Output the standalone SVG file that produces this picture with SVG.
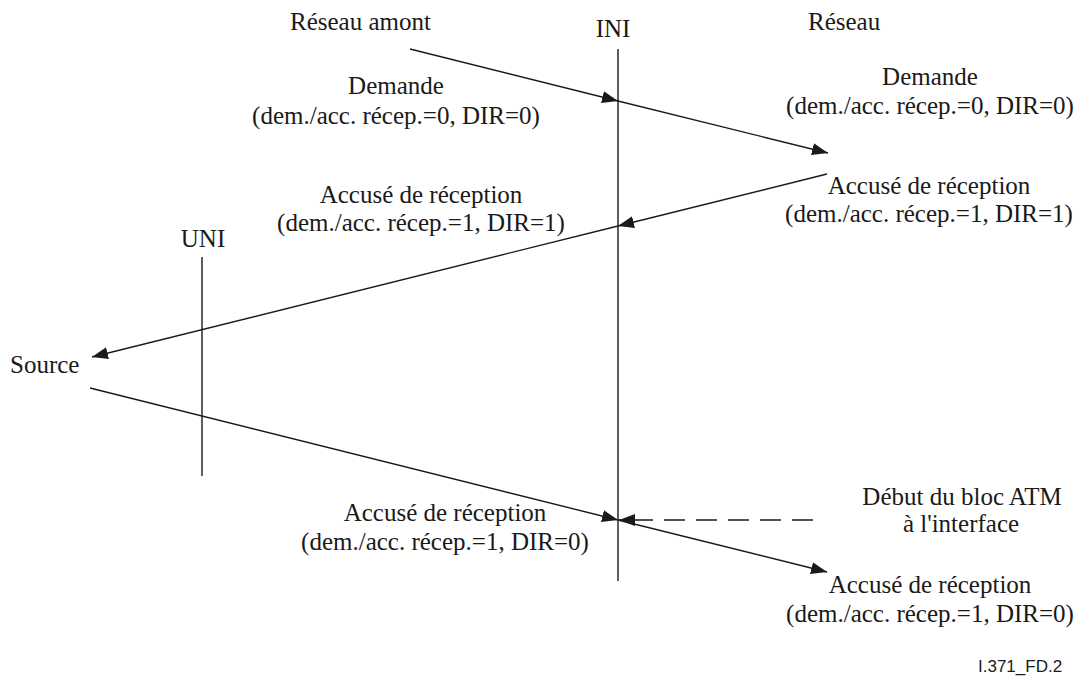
<svg xmlns="http://www.w3.org/2000/svg" width="1083" height="695" viewBox="0 0 1083 695">
<style>
.t{font-family:"Liberation Serif",Tinos,"Times New Roman",serif;font-size:25px;fill:#1a1a1a}
.m{text-anchor:middle}
.ln{stroke:#1a1a1a;stroke-width:1.4;fill:none}
.a{marker-end:url(#ah)}
.d{stroke-dasharray:21 11}
.s{font-family:"Liberation Sans",Arial,sans-serif;font-size:17px;fill:#1a1a1a}
</style>
<defs>
<marker id="ah" markerUnits="userSpaceOnUse" markerWidth="18" markerHeight="14" refX="16" refY="6" orient="auto">
<path d="M0,0 L16,6 L0,12 z" fill="#1a1a1a"/>
</marker>
</defs>
<rect width="1083" height="695" fill="#fff"/>
<g id="interfaces">
<g id="ini"><line class="ln" x1="618" y1="49" x2="618" y2="581"/><text class="t m" x="613" y="37">INI</text></g>
<g id="uni"><line class="ln" x1="202" y1="257" x2="202" y2="476"/><text class="t m" x="203" y="247">UNI</text></g>
</g>
<g id="reseau-amont"><text class="t" x="290" y="30">Réseau amont</text></g>
<g id="reseau"><text class="t" x="808" y="30">Réseau</text></g>
<g id="source"><text class="t" x="10" y="373">Source</text></g>
<g id="label-demande-left"><text class="t m" x="396" y="94">Demande</text><text class="t m" x="396" y="124">(dem./acc. récep.=0, DIR=0)</text></g>
<g id="label-demande-right"><text class="t m" x="930" y="85">Demande</text><text class="t m" x="930" y="114">(dem./acc. récep.=0, DIR=0)</text></g>
<g id="label-ack1-left"><text class="t m" x="421" y="203">Accusé de réception</text><text class="t m" x="421" y="231">(dem./acc. récep.=1, DIR=1)</text></g>
<g id="label-ack1-right"><text class="t m" x="929" y="194">Accusé de réception</text><text class="t m" x="929" y="222">(dem./acc. récep.=1, DIR=1)</text></g>
<g id="label-ack0-left"><text class="t m" x="445" y="521">Accusé de réception</text><text class="t m" x="445" y="550">(dem./acc. récep.=1, DIR=0)</text></g>
<g id="label-debut"><text class="t m" x="962" y="505">Début du bloc ATM</text><text class="t m" x="961" y="532">à l'interface</text></g>
<g id="label-ack0-right"><text class="t m" x="930" y="593">Accusé de réception</text><text class="t m" x="930" y="622">(dem./acc. récep.=1, DIR=0)</text></g>
<g id="connectors">
<line class="ln a" x1="410" y1="49" x2="618" y2="101"/>
<line class="ln a" x1="618" y1="101" x2="828" y2="153"/>
<line class="ln a" x1="827" y1="174" x2="618" y2="226"/>
<line class="ln a" x1="618" y1="226" x2="92" y2="357"/>
<line class="ln a" x1="90" y1="388" x2="618" y2="520"/>
<line class="ln a d" x1="813" y1="520" x2="619" y2="520"/>
<line class="ln a" x1="618" y1="520" x2="827" y2="572"/>
</g>
<text class="s" x="978" y="672">I.371_FD.2</text>
</svg>
